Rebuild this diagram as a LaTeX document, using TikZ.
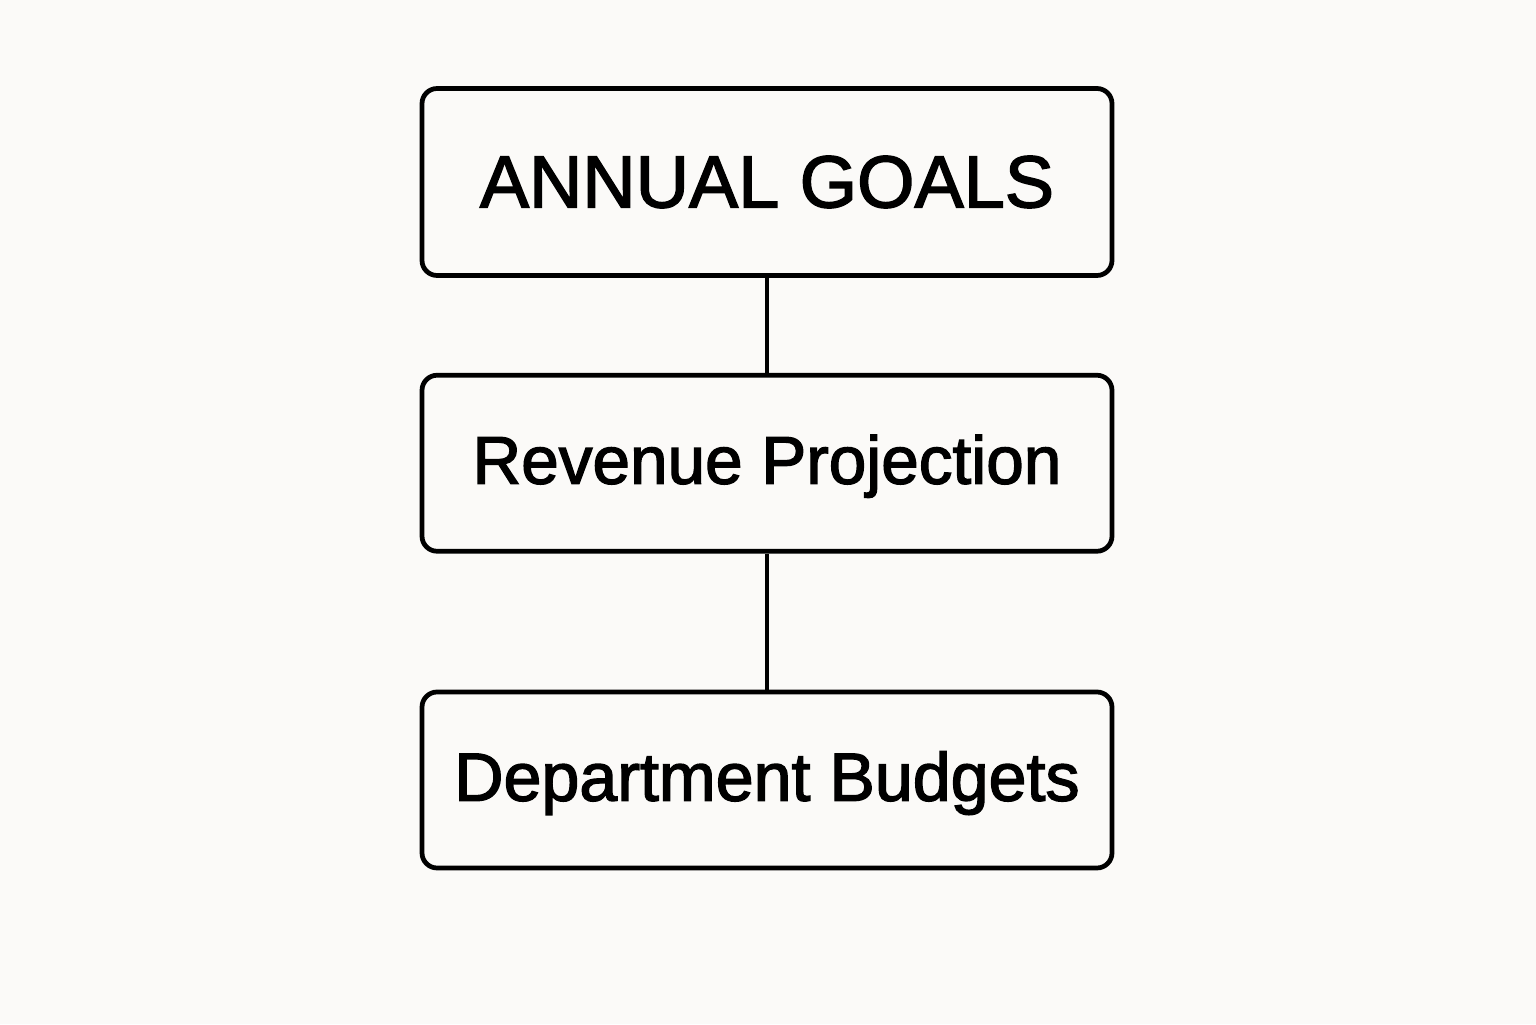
\documentclass[tikz,border=0pt]{standalone}
\usepackage{fontspec}
\setmainfont{Liberation Sans}
\newfontfamily\boxfont[FakeBold=2]{Liberation Sans}
\usepackage{tikz}
\usetikzlibrary{positioning}
\definecolor{paper}{HTML}{FBFAF8}
\tikzstyle{link} = [line width=1.15pt]

\begin{document}
\begin{tikzpicture}[
    			box/.style = {draw, rectangle, rounded corners = 4.3pt, line width = 1.35pt, minimum width = 6.9cm, minimum height = 1.76cm, inner sep = 0pt},
    			boxtext/.style = {font = \boxfont\fontsize{19.2}{23}\selectfont, text depth = 0.08cm}
  			]
  				% Page
  				\fill[paper] (0,0) rectangle (15.36,10.24);
  				\useasboundingbox (0,0) rectangle (15.36,10.24);

  				% Boxes
  				\node[box, minimum height = 1.87cm, font = \boxfont\fontsize{21}{25}\selectfont] (Goals) at (7.67,8.42) {ANNUAL GOALS};
  				\node[box, boxtext, below = 0.95cm of Goals] (Revenue) {Revenue Projection};
  				\node[box, boxtext, below = 1.36cm of Revenue, font = \boxfont\fontsize{19.4}{23}\selectfont] (Budgets) {Department Budgets};

  				% Links
  				\draw[link] (Goals) -- (Revenue);
  				\draw[link] (Revenue) -- (Budgets);
			\end{tikzpicture}
\end{document}
